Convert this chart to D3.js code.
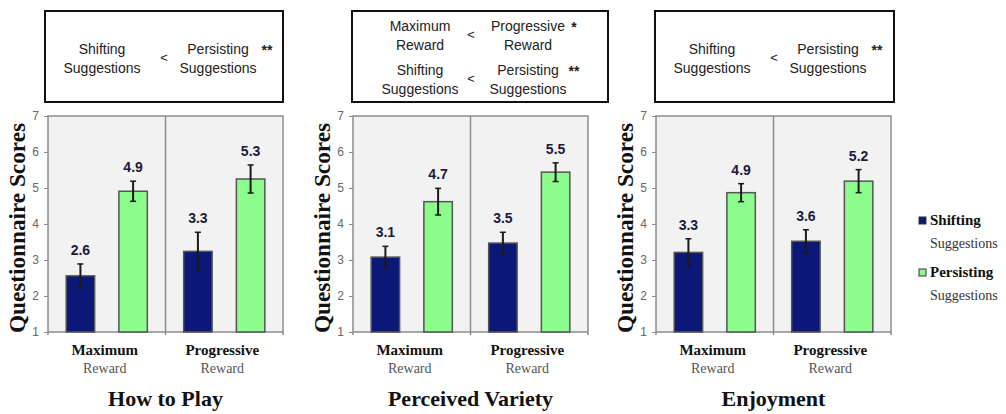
<!DOCTYPE html>
<html>
<head>
<meta charset="utf-8">
<script src="https://cdn.jsdelivr.net/npm/d3@7"></script>
<style>
  body { margin: 0; background: #fff; }
  text { font-family: "Liberation Serif", serif; }
  .sans { font-family: "Liberation Sans", Arial, sans-serif; }
</style>
</head>
<body>
<div id="app"></div>
<script>
// ---- data ----
const panelTitles = ["How to Play", "Perceived Variety", "Enjoyment"];
const groups = ["Maximum", "Progressive"];
const groupSub = "Reward";
const series = ["Shifting", "Persisting"];
const seriesColors = ["#0b1878", "#8cfc8c"];

const shiftingMeans = [[2.56, 3.24], [3.08, 3.47], [3.21, 3.52]];
const persistingMeans = [[4.91, 5.25], [4.62, 5.44], [4.87, 5.19]];
const shiftingErr = [[0.33, 0.53], [0.30, 0.30], [0.38, 0.32]];
const persistingErr = [[0.28, 0.39], [0.37, 0.26], [0.25, 0.32]];
const shiftingLabels = [["2.6", "3.3"], ["3.1", "3.5"], ["3.3", "3.6"]];
const persistingLabels = [["4.9", "5.3"], ["4.7", "5.5"], ["4.9", "5.2"]];
const yTicks = [1, 2, 3, 4, 5, 6, 7];

// significance notes above each panel
const notes = [
  [{ left: ["Shifting", "Suggestions"], right: ["Persisting", "Suggestions"], sig: "**" }],
  [{ left: ["Maximum", "Reward"], right: ["Progressive", "Reward"], sig: "*" },
   { left: ["Shifting", "Suggestions"], right: ["Persisting", "Suggestions"], sig: "**" }],
  [{ left: ["Shifting", "Suggestions"], right: ["Persisting", "Suggestions"], sig: "**" }]
];

const legendItems = [["Shifting", "Suggestions"], ["Persisting", "Suggestions"]];

// ---- layout ----
const width = 1006;
const height = 414;
const panelLeft = [48, 353, 656];
const plotW = 235;
const boxes = [[45, 283], [352, 608], [655, 894]];

const svg = d3.select('#app')
  .append('svg')
  .attr('width', width)
  .attr('height', height);

const y = d3.scaleLinear().domain([1, 7]).range([332, 116]);

panelTitles.forEach((title, p) => {
  const g = svg.append('g')
    .attr('transform', `translate(${panelLeft[p]},0)`);

  const x0 = d3.scaleBand().domain(groups).range([0, plotW]);
  const x1 = d3.scaleBand().domain(series)
    .range([0, x0.bandwidth()])
    .paddingInner(0.46)
    .paddingOuter(0.345);

  // plot background
  g.append('rect')
    .attr('x', 0).attr('y', y(7))
    .attr('width', plotW).attr('height', y(1) - y(7))
    .attr('fill', '#f2f2f2')
    .attr('stroke', '#8c8c8c')
    .attr('stroke-width', 1.5);

  // divider between groups
  groups.slice(1).forEach(gr => {
    g.append('line')
      .attr('x1', x0(gr)).attr('x2', x0(gr))
      .attr('y1', y(7)).attr('y2', y(1) + 3)
      .attr('stroke', '#8c8c8c').attr('stroke-width', 1.5);
  });
  [0, plotW].forEach(xx => {
    g.append('line')
      .attr('x1', xx).attr('x2', xx)
      .attr('y1', y(1)).attr('y2', y(1) + 3)
      .attr('stroke', '#8c8c8c').attr('stroke-width', 1.5);
  });

  // y axis
  const yAxis = g.append('g')
    .call(d3.axisLeft(y).tickValues(yTicks).tickFormat(d3.format('d')).tickSize(4).tickPadding(5));
  yAxis.select('.domain').remove();
  yAxis.selectAll('line').attr('stroke', '#8c8c8c');
  yAxis.selectAll('text')
    .attr('class', 'sans')
    .attr('fill', '#666')
    .style('font-size', '12px');

  // y title
  svg.append('text')
    .attr('transform', `translate(${panelLeft[p] - 23},228) rotate(-90)`)
    .attr('text-anchor', 'middle')
    .attr('font-weight', 'bold')
    .attr('font-size', 23)
    .attr('textLength', 210)
    .attr('lengthAdjust', 'spacingAndGlyphs')
    .attr('fill', '#111')
    .text('Questionnaire Scores');

  const rows = groups.map((gr, i) => [
    { s: series[0], v: shiftingMeans[p][i], e: shiftingErr[p][i], l: shiftingLabels[p][i], gr, c: seriesColors[0] },
    { s: series[1], v: persistingMeans[p][i], e: persistingErr[p][i], l: persistingLabels[p][i], gr, c: seriesColors[1] }
  ]).flat();

  const bar = g.selectAll('.bar')
    .data(rows)
    .enter()
    .append('g')
    .attr('class', 'bar')
    .attr('transform', d => `translate(${x0(d.gr) + x1(d.s)},0)`);

  bar.append('rect')
    .attr('x', 0)
    .attr('y', d => y(d.v))
    .attr('width', x1.bandwidth())
    .attr('height', d => y(1) - y(d.v))
    .attr('fill', d => d.c)
    .attr('stroke', '#555')
    .attr('stroke-width', 1.5);

  const cx = x1.bandwidth() / 2;
  bar.append('line')
    .attr('x1', cx).attr('x2', cx)
    .attr('y1', d => y(d.v + d.e)).attr('y2', d => y(d.v - d.e))
    .attr('stroke', '#1a1a1a').attr('stroke-width', 2);
  bar.append('line')
    .attr('x1', cx - 3).attr('x2', cx + 3)
    .attr('y1', d => y(d.v + d.e)).attr('y2', d => y(d.v + d.e))
    .attr('stroke', '#1a1a1a').attr('stroke-width', 1.5);
  bar.append('line')
    .attr('x1', cx - 3).attr('x2', cx + 3)
    .attr('y1', d => y(d.v - d.e)).attr('y2', d => y(d.v - d.e))
    .attr('stroke', '#1a1a1a').attr('stroke-width', 1.5);

  bar.append('text')
    .attr('class', 'sans')
    .attr('x', cx)
    .attr('y', d => y(d.v + d.e) - 9)
    .attr('text-anchor', 'middle')
    .attr('font-weight', 'bold')
    .attr('font-size', 14)
    .attr('fill', '#1b1b3c')
    .text(d => d.l);

  // group labels
  groups.forEach(gr => {
    const mx = x0(gr) + x0.bandwidth() / 2 - 2;
    g.append('text')
      .attr('x', mx).attr('y', 355)
      .attr('text-anchor', 'middle')
      .attr('font-weight', 'bold')
      .attr('font-size', 15)
      .attr('fill', '#111')
      .text(gr);
    g.append('text')
      .attr('x', mx).attr('y', 373)
      .attr('text-anchor', 'middle')
      .attr('font-size', 14)
      .attr('fill', '#555')
      .text(groupSub);
  });

  // panel title
  g.append('text')
    .attr('x', plotW / 2).attr('y', 406)
    .attr('text-anchor', 'middle')
    .attr('font-weight', 'bold')
    .attr('font-size', 22)
    .attr('fill', '#111')
    .text(title);

  // note box
  const [bx0, bx1] = boxes[p];
  svg.append('rect')
    .attr('x', bx0).attr('y', 11)
    .attr('width', bx1 - bx0).attr('height', 91)
    .attr('fill', 'none')
    .attr('stroke', '#111')
    .attr('stroke-width', 2);

  const list = notes[p];
  const centers = list.length === 1 ? [58] : [35, 79];
  const wide = bx1 - bx0 > 245;
  list.forEach((n, r) => {
    const cy = centers[r];
    const nt = svg.append('g').attr('class', 'sans').attr('transform', `translate(${bx0},${cy})`);
    const lx = wide ? 68 : 57;
    const rx = wide ? 176 : 173;
    n.left.forEach((t, k) => {
      nt.append('text').attr('class', 'sans')
        .attr('x', lx).attr('y', (k === 0 ? -9 : 10) + 5)
        .attr('text-anchor', 'middle').attr('font-size', 14).attr('fill', '#222')
        .text(t);
    });
    n.right.forEach((t, k) => {
      nt.append('text').attr('class', 'sans')
        .attr('x', rx).attr('y', (k === 0 ? -9 : 10) + 5)
        .attr('text-anchor', 'middle').attr('font-size', 14).attr('fill', '#222')
        .text(t);
    });
    nt.append('text').attr('class', 'sans')
      .attr('x', 119).attr('y', 4)
      .attr('text-anchor', 'middle').attr('font-size', 13).attr('fill', '#222')
      .text('<');
    nt.append('text').attr('class', 'sans')
      .attr('x', 222).attr('y', -3)
      .attr('text-anchor', 'middle').attr('font-size', 14).attr('font-weight', 'bold').attr('fill', '#222')
      .text(n.sig);
  });
});

// legend
const legend = svg.append('g').attr('transform', 'translate(919,0)');
legendItems.forEach((item, i) => {
  const ly = 217 + i * 52;
  legend.append('rect')
    .attr('x', 0).attr('y', ly)
    .attr('width', 7).attr('height', 7)
    .attr('fill', seriesColors[i])
    .attr('stroke', '#333').attr('stroke-width', 1);
  legend.append('text')
    .attr('x', 11).attr('y', ly + 8)
    .attr('font-weight', 'bold').attr('font-size', 15).attr('fill', '#111')
    .text(item[0]);
  legend.append('text')
    .attr('x', 11).attr('y', ly + 31)
    .attr('font-size', 14).attr('fill', '#333')
    .text(item[1]);
});
</script>
</body>
</html>
